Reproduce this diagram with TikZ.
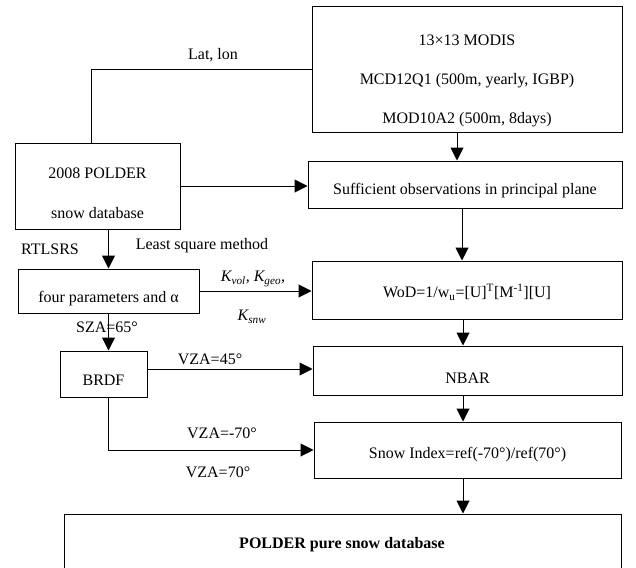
\documentclass[tikz,border=0pt]{standalone}
\usepackage{fontspec}
\setmainfont{Liberation Serif}
\usetikzlibrary{arrows.meta,positioning,calc}
\begin{document}
\begin{tikzpicture}[x=1pt,y=-1pt,
  every node/.style={font=\fontsize{16}{18}\selectfont},
  box/.style={draw,line width=1pt,inner sep=0pt,rectangle},
  txt/.style={inner sep=0pt,anchor=base},
  lbl/.style={inner sep=0pt},
  conn/.style={line width=1pt},
  arr/.style={line width=1pt,-{Triangle[length=13pt,width=13pt]}}]
\useasboundingbox (0,0) rectangle (636,567);
% boxes
\node[box,minimum width=310pt,minimum height=125pt] (modis) at (467,69.5) {};
\node[txt] (modisA) at (467,45.5) {13×13 MODIS};
\node[txt] (modisB) at (467,84.5) {MCD12Q1 (500m, yearly, IGBP)};
\node[txt] (modisC) at (467,123) {MOD10A2 (500m, 8days)};
\node[box,minimum width=165pt,minimum height=86pt] (polder) at (97.5,186) {};
\node[txt] (polderA) at (97.5,178.5) {2008 POLDER};
\node[txt] (polderB) at (97.5,218) {snow database};
\node[box,minimum width=314pt,minimum height=47pt] (suff) at (465,184.5) {};
\node[txt] at (465,194.5) {Sufficient observations in principal plane};
\node[box,minimum width=310pt,minimum height=58pt] (wod) at (467,290) {};
\node[txt] at (467,297.5) {WoD=1/w\textsubscript{u}=[U]\textsuperscript{T}[M\textsuperscript{-1}][U]};
\node[box,minimum width=181pt,minimum height=44pt] (four) at (108.5,291) {};
\node[txt] at (108.5,302) {four parameters and α};
\node[box,minimum width=87pt,minimum height=46pt] (brdf) at (103.5,374) {};
\node[txt] at (103.5,385.5) {BRDF};
\node[box,minimum width=309pt,minimum height=49pt] (nbar) at (467.5,370.5) {};
\node[txt] at (467.5,383.5) {NBAR};
\node[box,minimum width=307pt,minimum height=56pt] (snow) at (467.5,450) {};
\node[txt] at (467.5,458.5) {Snow Index=ref(-70°)/ref(70°)};
\node[box,minimum width=557pt,minimum height=90pt] (final) at (342.5,559) {};
\node[txt] at (342,548.5) {\bfseries POLDER pure snow database};
% connectors
\draw[arr] ([xshift=-10pt]modis.south) -- ([xshift=-10pt]modis.south |- suff.north);
\draw[arr] ([xshift=-3pt]suff.south) -- ([xshift=-3pt]suff.south |- wod.north);
\draw[arr] ([xshift=-4pt]wod.south) -- ([xshift=-4pt]wod.south |- nbar.north);
\draw[arr] ([xshift=-4.5pt]nbar.south) -- ([xshift=-4.5pt]nbar.south |- snow.north);
\draw[arr] ([xshift=-4.5pt]snow.south) -- ([xshift=-4.5pt]snow.south |- final.north);
\draw[arr] (polder.east) -- (polder.east -| suff.west);
\draw[conn] ([xshift=-6.5pt]polder.north) |- (modis.west);
\draw[arr] (four.north |- polder.south) -- (four.north);
\draw[arr] (four.east) -- (four.east -| wod.west);
\draw[arr] (four.south) -- (four.south |- brdf.north);
\draw[arr] ([yshift=5pt]brdf.east) -- ([yshift=5pt]brdf.east -| nbar.west);
\draw[arr] ([xshift=4.5pt]brdf.south) |- (snow.west);
% labels
\node[lbl] (l1) at (213,55) {Lat, lon};
\node[lbl] (l2) at (50,249) {RTLSRS};
\node[lbl] (l3) at (202,246) {Least square method};
\node[lbl] (l4) at (253,279) {\textit{K\textsubscript{vol}}, \textit{K\textsubscript{geo}},};
\node[lbl] (l5) at (252,317) {\textit{K\textsubscript{snw}}};
\node[lbl] (l6) at (107,327) {SZA=65°};
\node[lbl] (l7) at (210,359) {VZA=45°};
\node[lbl] (l8) at (222,433) {VZA=-70°};
\node[lbl] (l9) at (218,472) {VZA=70°};
\end{tikzpicture}
\end{document}
